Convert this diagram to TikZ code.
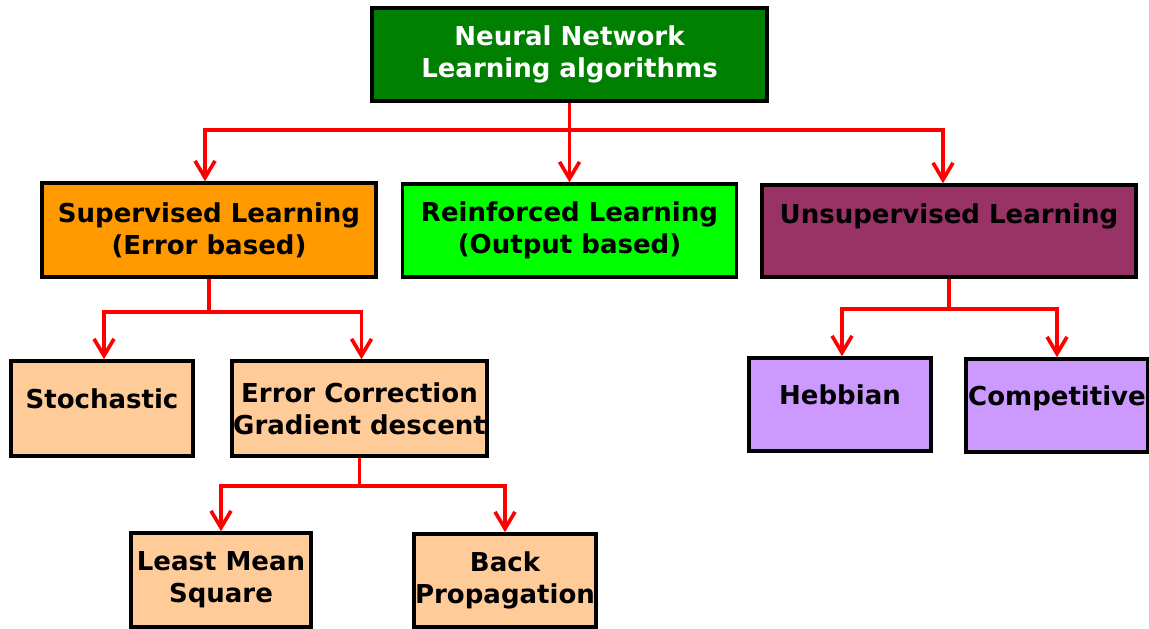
\documentclass[tikz,border=0pt]{standalone}
\usepackage{xcolor}
\usepackage{fontspec}
\setmainfont{DejaVu Sans}
\usepackage{tikz}
\usetikzlibrary{calc}
\usetikzlibrary{arrows.meta}

\definecolor{nngreen}{HTML}{008000}
\definecolor{suporange}{HTML}{FF9900}
\definecolor{reingreen}{HTML}{00FF00}
\definecolor{unsupred}{HTML}{993366}
\definecolor{peach}{HTML}{FFCC99}
\definecolor{lilac}{HTML}{CC99FF}

\tikzset{
  box/.style={draw=black, line width=2.5pt, align=center, inner sep=0pt,
    font=\fontsize{18.5}{22.8}\selectfont\bfseries},
  high/.style={text height=0.5cm, text depth=0.5cm},
  higher/.style={text height=0.5cm, text depth=0.875cm},
  link/.style={draw=red, line width=2.6pt, ->},
}

\begin{document}
\begin{tikzpicture}[x=0.025cm,y=-0.025cm,>={Straight Barb[length=0.42cm,width=0.5cm]}]
      \useasboundingbox (0,0) rectangle (1149,629);

      % top row
      \node[box, fill=nngreen, text=white, minimum width=9.875cm, minimum height=2.325cm]
        (nn) at (569.5,54.5) {Neural Network\\Learning algorithms};

      % learning types
      \node[box, fill=suporange, minimum width=8.35cm, minimum height=2.35cm]
        (sup) at (209,230) {Supervised Learning\\(Error based)};
      \node[box, fill=reingreen, minimum width=8.35cm, minimum height=2.325cm]
        (rein) at (569.5,230.5) {Reinforced Learning\\(Output based)};
      \node[box, higher, fill=unsupred, minimum width=9.35cm, minimum height=2.3cm]
        (unsup) at (949,231) {Unsupervised Learning};

      % supervised branch
      \node[box, high, fill=peach, minimum width=4.55cm, minimum height=2.375cm]
        (stoch) at (102,408.5) {Stochastic};
      \node[box, fill=peach, minimum width=6.375cm, minimum height=2.375cm]
        (ecgd) at (359.5,408.5) {Error Correction\\Gradient descent};
      \node[box, fill=peach, minimum width=4.5cm, minimum height=2.35cm]
        (lms) at (221,580) {Least Mean\\Square};
      \node[box, fill=peach, minimum width=4.55cm, minimum height=2.325cm]
        (bp) at (505,580.5) {Back\\Propagation};

      % unsupervised branch
      \node[box, high, fill=lilac, minimum width=4.55cm, minimum height=2.325cm]
        (hebb) at (840,404.5) {Hebbian};
      \node[box, high, fill=lilac, minimum width=4.55cm, minimum height=2.325cm]
        (comp) at (1057,405.5) {Competitive};

      \coordinate (j1) at ($(nn.south)+(0,27)$);
      \coordinate (j2) at ($(sup.south)+(0,33)$);
      \coordinate (j3) at ($(unsup.south)+(0,30)$);
      \coordinate (j4) at ($(ecgd.south)+(0,28)$);

      \draw[link] (nn.south) -- (rein.north);
      \draw[link] (j1) -| ($(sup.north)+(-4,0)$);
      \draw[link] (j1) -| ($(unsup.north)+(-6,0)$);

      \draw[link] (sup.south) -- (j2) -| ($(stoch.north)+(2,0)$);
      \draw[link] (j2) -| ($(ecgd.north)+(2,0)$);

      \draw[link] (unsup.south) -- (j3) -| ($(hebb.north)+(2,0)$);
      \draw[link] (j3) -| (comp.north);

      \draw[link] (ecgd.south) -- (j4) -| (lms.north);
      \draw[link] (j4) -| (bp.north);
    \end{tikzpicture}
\end{document}
